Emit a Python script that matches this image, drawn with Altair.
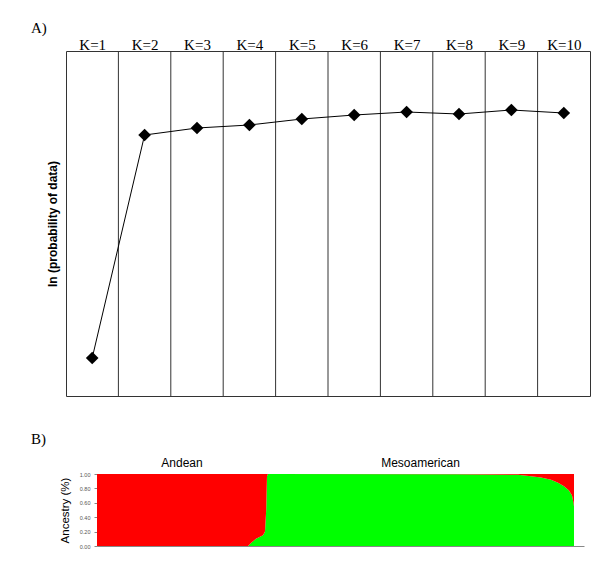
import altair as alt
import pandas as pd

# ---- Panel A data: ln(probability of data) for K = 1..10 ----
ks = [1, 2, 3, 4, 5, 6, 7, 8, 9, 10]
ln_prob = [-14240, -9780, -9640, -9580, -9460, -9380, -9320, -9360, -9280, -9340]

# ---- Panel B data: ancestry profile (sorted individuals) ----
ind_index = [0, 75.5, 77, 79.5, 81, 83, 84, 84.6, 85, 85.5,
             180, 210.5, 217, 222, 227, 230.5, 233.5, 236, 237.5, 238.25, 238.5]
meso_frac = [0.0, 0.0, 0.04, 0.10, 0.12, 0.15, 0.20, 0.50, 0.97, 1.0,
             0.995, 0.99, 0.97, 0.95, 0.92, 0.88, 0.83, 0.77, 0.70, 0.60, 0.55]
groups = ["Andean", "Mesoamerican"]
group_start = [0, 85]
group_end = [85, 238.5]
ancestry_ticks = [0.0, 0.2, 0.4, 0.6, 0.8, 1.0]

SERIF = "Liberation Serif"
SANS = "Liberation Sans"

dfA = pd.DataFrame({"K": ks, "lnp": ln_prob})
dfSep = pd.DataFrame({"b": [k + 0.5 for k in ks[:-1]]})

xScaleA = alt.Scale(domain=[ks[0] - 0.5, ks[-1] + 0.5], nice=False)
xA = alt.X("K:Q", scale=xScaleA,
           axis=alt.Axis(orient="top", values=ks, labelExpr="'K=' + datum.value",
                         title=None, ticks=False, domain=False, grid=False,
                         labelFont=SERIF, labelFontSize=15, labelColor="black",
                         labelPadding=-1, labelOverlap=False))
yA = alt.Y("lnp:Q", scale=alt.Scale(domain=[-15000, -8100], nice=False, zero=False),
           axis=alt.Axis(title="ln (probability of data)", labels=False, ticks=False,
                         domain=False, grid=False, titleFont=SANS, titleFontSize=12,
                         titleFontWeight="bold", titleColor="black", titlePadding=7))

sep = alt.Chart(dfSep).mark_rule(color="#333333", strokeWidth=1).encode(
    x=alt.X("b:Q", scale=xScaleA)
)
lineA = alt.Chart(dfA).mark_line(color="black", strokeWidth=1).encode(x=xA, y=yA)
ptsA = alt.Chart(dfA).mark_point(shape="diamond", filled=True, color="black",
                                 size=160, opacity=1).encode(x=xA, y=yA)

chartA = alt.layer(sep, lineA, ptsA).properties(
    width=524, height=345,
    view=alt.ViewBackground(stroke="#333333", strokeWidth=1),
    title=alt.TitleParams("A)", anchor="start", frame="group", dx=-35,
                          font=SERIF, fontSize=15, fontWeight="normal",
                          color="black", offset=1),
)

# ---- Panel B ----
dfB = pd.DataFrame({"i": ind_index, "meso": meso_frac})
dfB["top"] = 1.0
dfG = pd.DataFrame({"g": groups, "s": group_start, "e": group_end})

xScaleB = alt.Scale(domain=[0, 243.5], range=[31, 518], nice=False)
xAxisB = alt.Axis(title=None, labels=False, ticks=False, grid=False,
                  domainColor="#888888", domainWidth=1)
yScaleB = alt.Scale(domain=[0, 1], nice=False)
yAxisB = alt.Axis(title="Ancestry (%)", values=ancestry_ticks,
                  format=".2f", labelFontSize=5.5, labelColor="#555555",
                  labelFont=SANS, tickSize=3, tickColor="#888888",
                  domainColor="#888888", grid=False, titleFont=SANS,
                  titleFontSize=11.5, titleFontWeight="normal",
                  titleColor="black", titlePadding=9, labelPadding=4,
                  labelOverlap=False, labelFlush=False, offset=-31)

green = alt.Chart(dfB).mark_area(color="#00ff00", interpolate="linear").encode(
    x=alt.X("i:Q", scale=xScaleB, axis=xAxisB),
    y=alt.Y("meso:Q", scale=yScaleB, axis=yAxisB),
)
red = alt.Chart(dfB).mark_area(color="#ff0000", interpolate="linear").encode(
    x=alt.X("i:Q", scale=xScaleB, axis=xAxisB),
    y=alt.Y("meso:Q", scale=yScaleB, axis=yAxisB),
    y2="top:Q",
)
labels = alt.Chart(dfG).transform_calculate(mid="(datum.s + datum.e) / 2").mark_text(
    font=SANS, fontSize=12, color="black", baseline="bottom", dy=-4
).encode(x=alt.X("mid:Q", scale=xScaleB, axis=xAxisB), y=alt.value(0), text="g:N")

chartB = alt.layer(green, red, labels).properties(
    width=518, height=72,
    view=alt.ViewBackground(stroke=None),
    title=alt.TitleParams("B)", anchor="start", frame="group", dx=-35,
                          font=SERIF, fontSize=15, fontWeight="normal",
                          color="black", offset=10),
)

chart = alt.vconcat(chartA, chartB, spacing=35).properties(
    padding={"left": 22, "top": 12, "right": 0, "bottom": 5}
)

chart.save("out.html", embed_options={"renderer": "svg", "actions": False})
